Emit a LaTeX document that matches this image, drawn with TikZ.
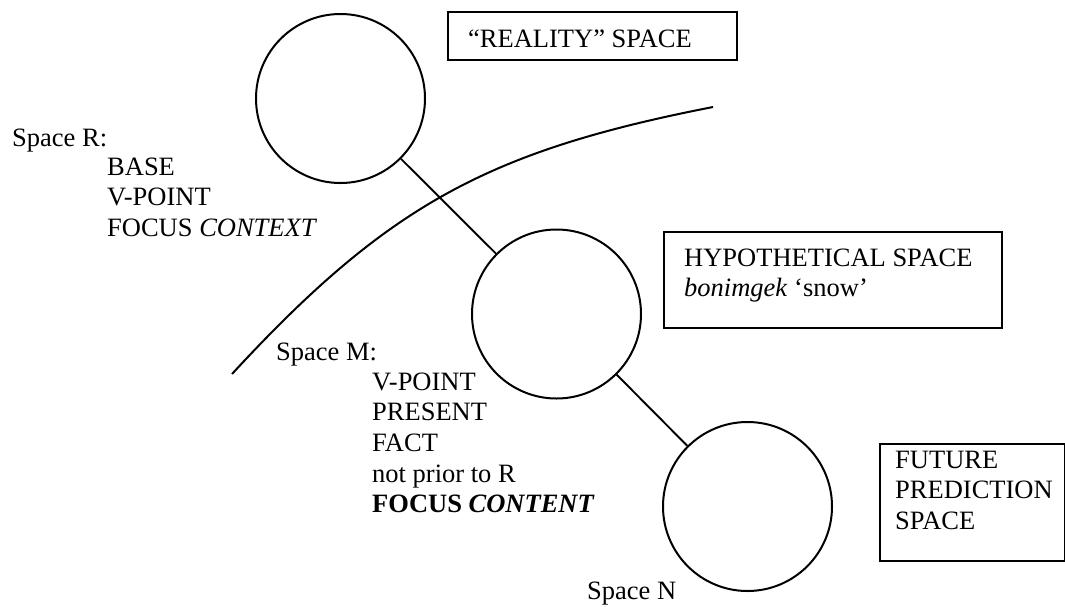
\documentclass[tikz,border=0pt]{standalone}
\usepackage{fontspec}
\setmainfont{Liberation Serif}
\begin{document}
\begin{tikzpicture}[x=1pt,y=-1pt,
  every node/.style={font=\fontsize{26.5}{30.7}\selectfont, inner sep=0pt},
  txt/.style={anchor=base west},
  space/.style={draw, circle, minimum size=169pt, line width=2pt},
  frame/.style={draw, rectangle, line width=2pt, anchor=north west},
  link/.style={line width=1.9pt},
  boundary/.style={line width=2pt}]
\useasboundingbox (0,0) rectangle (1065,606);
% mental spaces
\node[space] (R) at (340.5,98.5) {};
\node[space] (M) at (556.5,314) {};
\node[space] (N) at (747.5,506.5) {};
\draw[link] (R) -- (M);
\draw[link] (M) -- (N);
% boundary curve
\coordinate (b1) at (232,374);
\coordinate (b2) at (713,107);
\draw[boundary] (b1) .. controls (388,205) and (488,151) .. (b2);
% boxes
\node[frame, minimum width=289pt, minimum height=48pt] (realbox) at (447,11) {};
\node[frame, minimum width=338pt, minimum height=96pt] (hypbox) at (663,231) {};
\node[frame, minimum width=185pt, minimum height=117pt] (futbox) at (879,443) {};
\node[txt] (realtxt) at (468,47) {“REALITY” SPACE};
\node[txt] (hyptxt) at (684,266) {\vtop{\hbox{HYPOTHETICAL SPACE}\hbox{\textit{bonimgek} ‘snow’}}};
\node[txt] (futtxt) at (895,468) {\vtop{\hbox{FUTURE}\hbox{PREDICTION}\hbox{SPACE}}};
% labels
\node[txt] (rlabel) at (12,146) {Space R:};
\node[txt] (rlist) at (107,175) {\vtop{\hbox{BASE}\hbox{V-POINT}\hbox{FOCUS \textit{CONTEXT}}}};
\node[txt] (mlabel) at (276,360) {Space M:};
\node[txt] (mlist) at (372,390) {\vtop{\hbox{V-POINT}\hbox{PRESENT}\hbox{FACT}\hbox{not prior to R}\hbox{\textbf{FOCUS \textit{CONTENT}}}}};
\node[txt] (nlabel) at (587,599) {Space N};
\end{tikzpicture}
\end{document}
